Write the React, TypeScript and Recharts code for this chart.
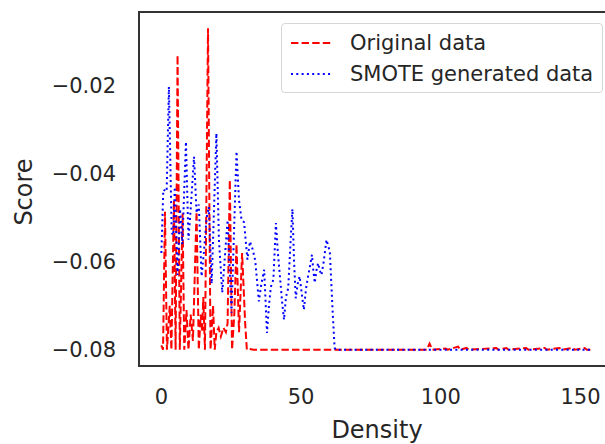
import { LineChart, Line, XAxis, YAxis } from 'recharts';

// Original data (red dashed)
const originalDensity = [0, 0.6, 1.3, 2, 3, 3.6, 4.5, 5.1, 5.8, 6.6, 7.6, 8.2, 9, 9.7, 10.5, 11.3, 12.6, 13.4, 14.1, 14.6, 15, 15.6, 16.7, 17.6, 18.5, 19.1, 19.7, 20.5, 21.3, 22.2, 23.1, 23.7, 24.5, 25.3, 26.1, 26.9, 27.8, 28.9, 30, 30.6, 31.5, 33, 60, 95, 96, 97, 101.7, 102.5, 106.2, 107, 109.2, 110, 119.9, 120.6, 123.5, 124.3, 130.6, 131.4, 137.2, 138, 142.5, 143.3, 147.3, 148, 151.5, 152.3, 154.4];
const originalScore = [-0.079, -0.08, -0.0486, -0.08, -0.07, -0.08, -0.046, -0.08, -0.013, -0.08, -0.049, -0.08, -0.071, -0.08, -0.072, -0.078, -0.0486, -0.08, -0.072, -0.076, -0.068, -0.08, -0.0069, -0.08, -0.07, -0.08, -0.076, -0.075, -0.077, -0.075, -0.076, -0.074, -0.0414, -0.08, -0.072, -0.056, -0.076, -0.058, -0.074, -0.08, -0.0798, -0.08, -0.08, -0.08, -0.0786, -0.08, -0.0797, -0.08, -0.0793, -0.08, -0.0796, -0.08, -0.0796, -0.08, -0.0796, -0.08, -0.0796, -0.08, -0.0796, -0.08, -0.0796, -0.08, -0.0796, -0.08, -0.0796, -0.08, -0.08];

// SMOTE generated data (blue dotted)
const smoteDensity = [0, 0.7, 1.9, 2.7, 3.7, 4.3, 4.8, 5.8, 6.7, 7.5, 8.8, 9.7, 10.5, 11.7, 12.6, 13.4, 14.4, 15.2, 16.2, 17, 18, 19.7, 20.6, 21.8, 23.7, 25.1, 26.9, 27.8, 28.7, 29.6, 30.8, 31.7, 32.6, 33.6, 34.9, 35.8, 36.8, 37.8, 38.5, 39.2, 40.1, 41, 41.7, 42.4, 43.2, 43.9, 44.6, 45.4, 46.2, 46.9, 47.5, 48.1, 48.8, 49.5, 50.2, 51, 51.8, 52.5, 53.2, 53.9, 54.4, 54.9, 55.5, 56.1, 56.7, 57.3, 58.1, 59.1, 60.3, 61.2, 62, 62.5, 154.4];
const smoteScore = [-0.058, -0.0436, -0.044, -0.0202, -0.0534, -0.054, -0.043, -0.063, -0.048, -0.056, -0.0327, -0.055, -0.048, -0.0361, -0.0489, -0.047, -0.0633, -0.058, -0.05, -0.0475, -0.065, -0.0308, -0.055, -0.067, -0.0505, -0.0716, -0.0349, -0.046, -0.0505, -0.051, -0.0595, -0.0554, -0.057, -0.0597, -0.069, -0.065, -0.0618, -0.0762, -0.07, -0.0657, -0.064, -0.0512, -0.058, -0.063, -0.069, -0.0732, -0.068, -0.066, -0.056, -0.048, -0.06, -0.0683, -0.065, -0.0633, -0.067, -0.0709, -0.066, -0.0633, -0.061, -0.0584, -0.062, -0.0648, -0.062, -0.0603, -0.062, -0.063, -0.06, -0.055, -0.0577, -0.07, -0.0796, -0.08, -0.08];

const xTicks = [0, 50, 100, 150];
const yTicks = [-0.08, -0.06, -0.04, -0.02];

const FONT = '"DejaVu Sans", sans-serif';
const TEXT = '#262626';

const originalData = originalDensity.map((d, i) => ({ density: d, score: originalScore[i] }));
const smoteData = smoteDensity.map((d, i) => ({ density: d, score: smoteScore[i] }));

const fmtY = (v: number) => (v < 0 ? '\u2212' : '') + Math.abs(v).toFixed(2);

function YTick({ y, payload }: any) {
  return (
    <text x={116} y={y} textAnchor="end" dominantBaseline="central" fontSize={21} fontFamily={FONT} fill={TEXT}>
      {fmtY(payload.value)}
    </text>
  );
}

function XTick({ x, payload }: any) {
  return (
    <text x={x} y={397} textAnchor="middle" dominantBaseline="central" fontSize={21} fontFamily={FONT} fill={TEXT}>
      {payload.value}
    </text>
  );
}

function LegendBox() {
  const row = (label: string, color: string, dash: string) => (
    <div style={{ display: 'flex', alignItems: 'center', height: 31 }}>
      <svg width={60} height={10} style={{ marginLeft: 8 }}>
        <line x1={1} y1={5} x2={43} y2={5} stroke={color} strokeWidth={2} strokeDasharray={dash} />
      </svg>
      <span style={{ fontSize: 21, fontFamily: FONT, color: TEXT }}>{label}</span>
    </div>
  );
  return (
    <div style={{
      position: 'absolute', left: 281, top: 23, width: 322, height: 70,
      border: '1px solid #d6d6d6', borderRadius: 4, background: 'rgba(255,255,255,0.85)',
      boxSizing: 'border-box', paddingTop: 3,
    }}>
      {row('Original data', '#ff0000', '7.4 3.2')}
      {row('SMOTE generated data', '#0000ff', '2 3.3')}
    </div>
  );
}

export default function App() {
  return (
    <div style={{ position: 'absolute', left: 0, top: 0, width: 605, height: 444, overflow: 'hidden', background: '#fff' }}>
      <LineChart width={620} height={444} margin={{ top: 12, right: 6, bottom: 0, left: 0 }}>
        <XAxis
          type="number"
          dataKey="density"
          domain={[-8, 162]}
          ticks={xTicks}
          allowDataOverflow
          axisLine={false}
          tickLine={false}
          height={78}
          tick={<XTick />}
        />
        <YAxis
          type="number"
          dataKey="score"
          domain={[-0.0837, -0.0032]}
          ticks={yTicks}
          allowDataOverflow
          axisLine={false}
          tickLine={false}
          width={139}
          tick={<YTick />}
        />
        <Line data={originalData} dataKey="score" type="linear" dot={false} stroke="#ff0000"
          strokeWidth={2} strokeDasharray="7.4 3.2" isAnimationActive={false} />
        <Line data={smoteData} dataKey="score" type="linear" dot={false} stroke="#0000ff"
          strokeWidth={2} strokeDasharray="2 3.3" isAnimationActive={false} />
      </LineChart>
      <div style={{
        position: 'absolute', left: 138, top: 11, width: 500, height: 356,
        border: '2px solid #333', boxSizing: 'border-box', pointerEvents: 'none',
      }} />
      <LegendBox />
      <div style={{
        position: 'absolute', left: 24, top: 192, transform: 'translate(-50%, -50%) rotate(-90deg)',
        fontSize: 24, fontFamily: FONT, color: TEXT, whiteSpace: 'nowrap',
      }}>Score</div>
      <div style={{
        position: 'absolute', left: 377, top: 430, transform: 'translate(-50%, -50%)',
        fontSize: 24, fontFamily: FONT, color: TEXT, whiteSpace: 'nowrap',
      }}>Density</div>
    </div>
  );
}
